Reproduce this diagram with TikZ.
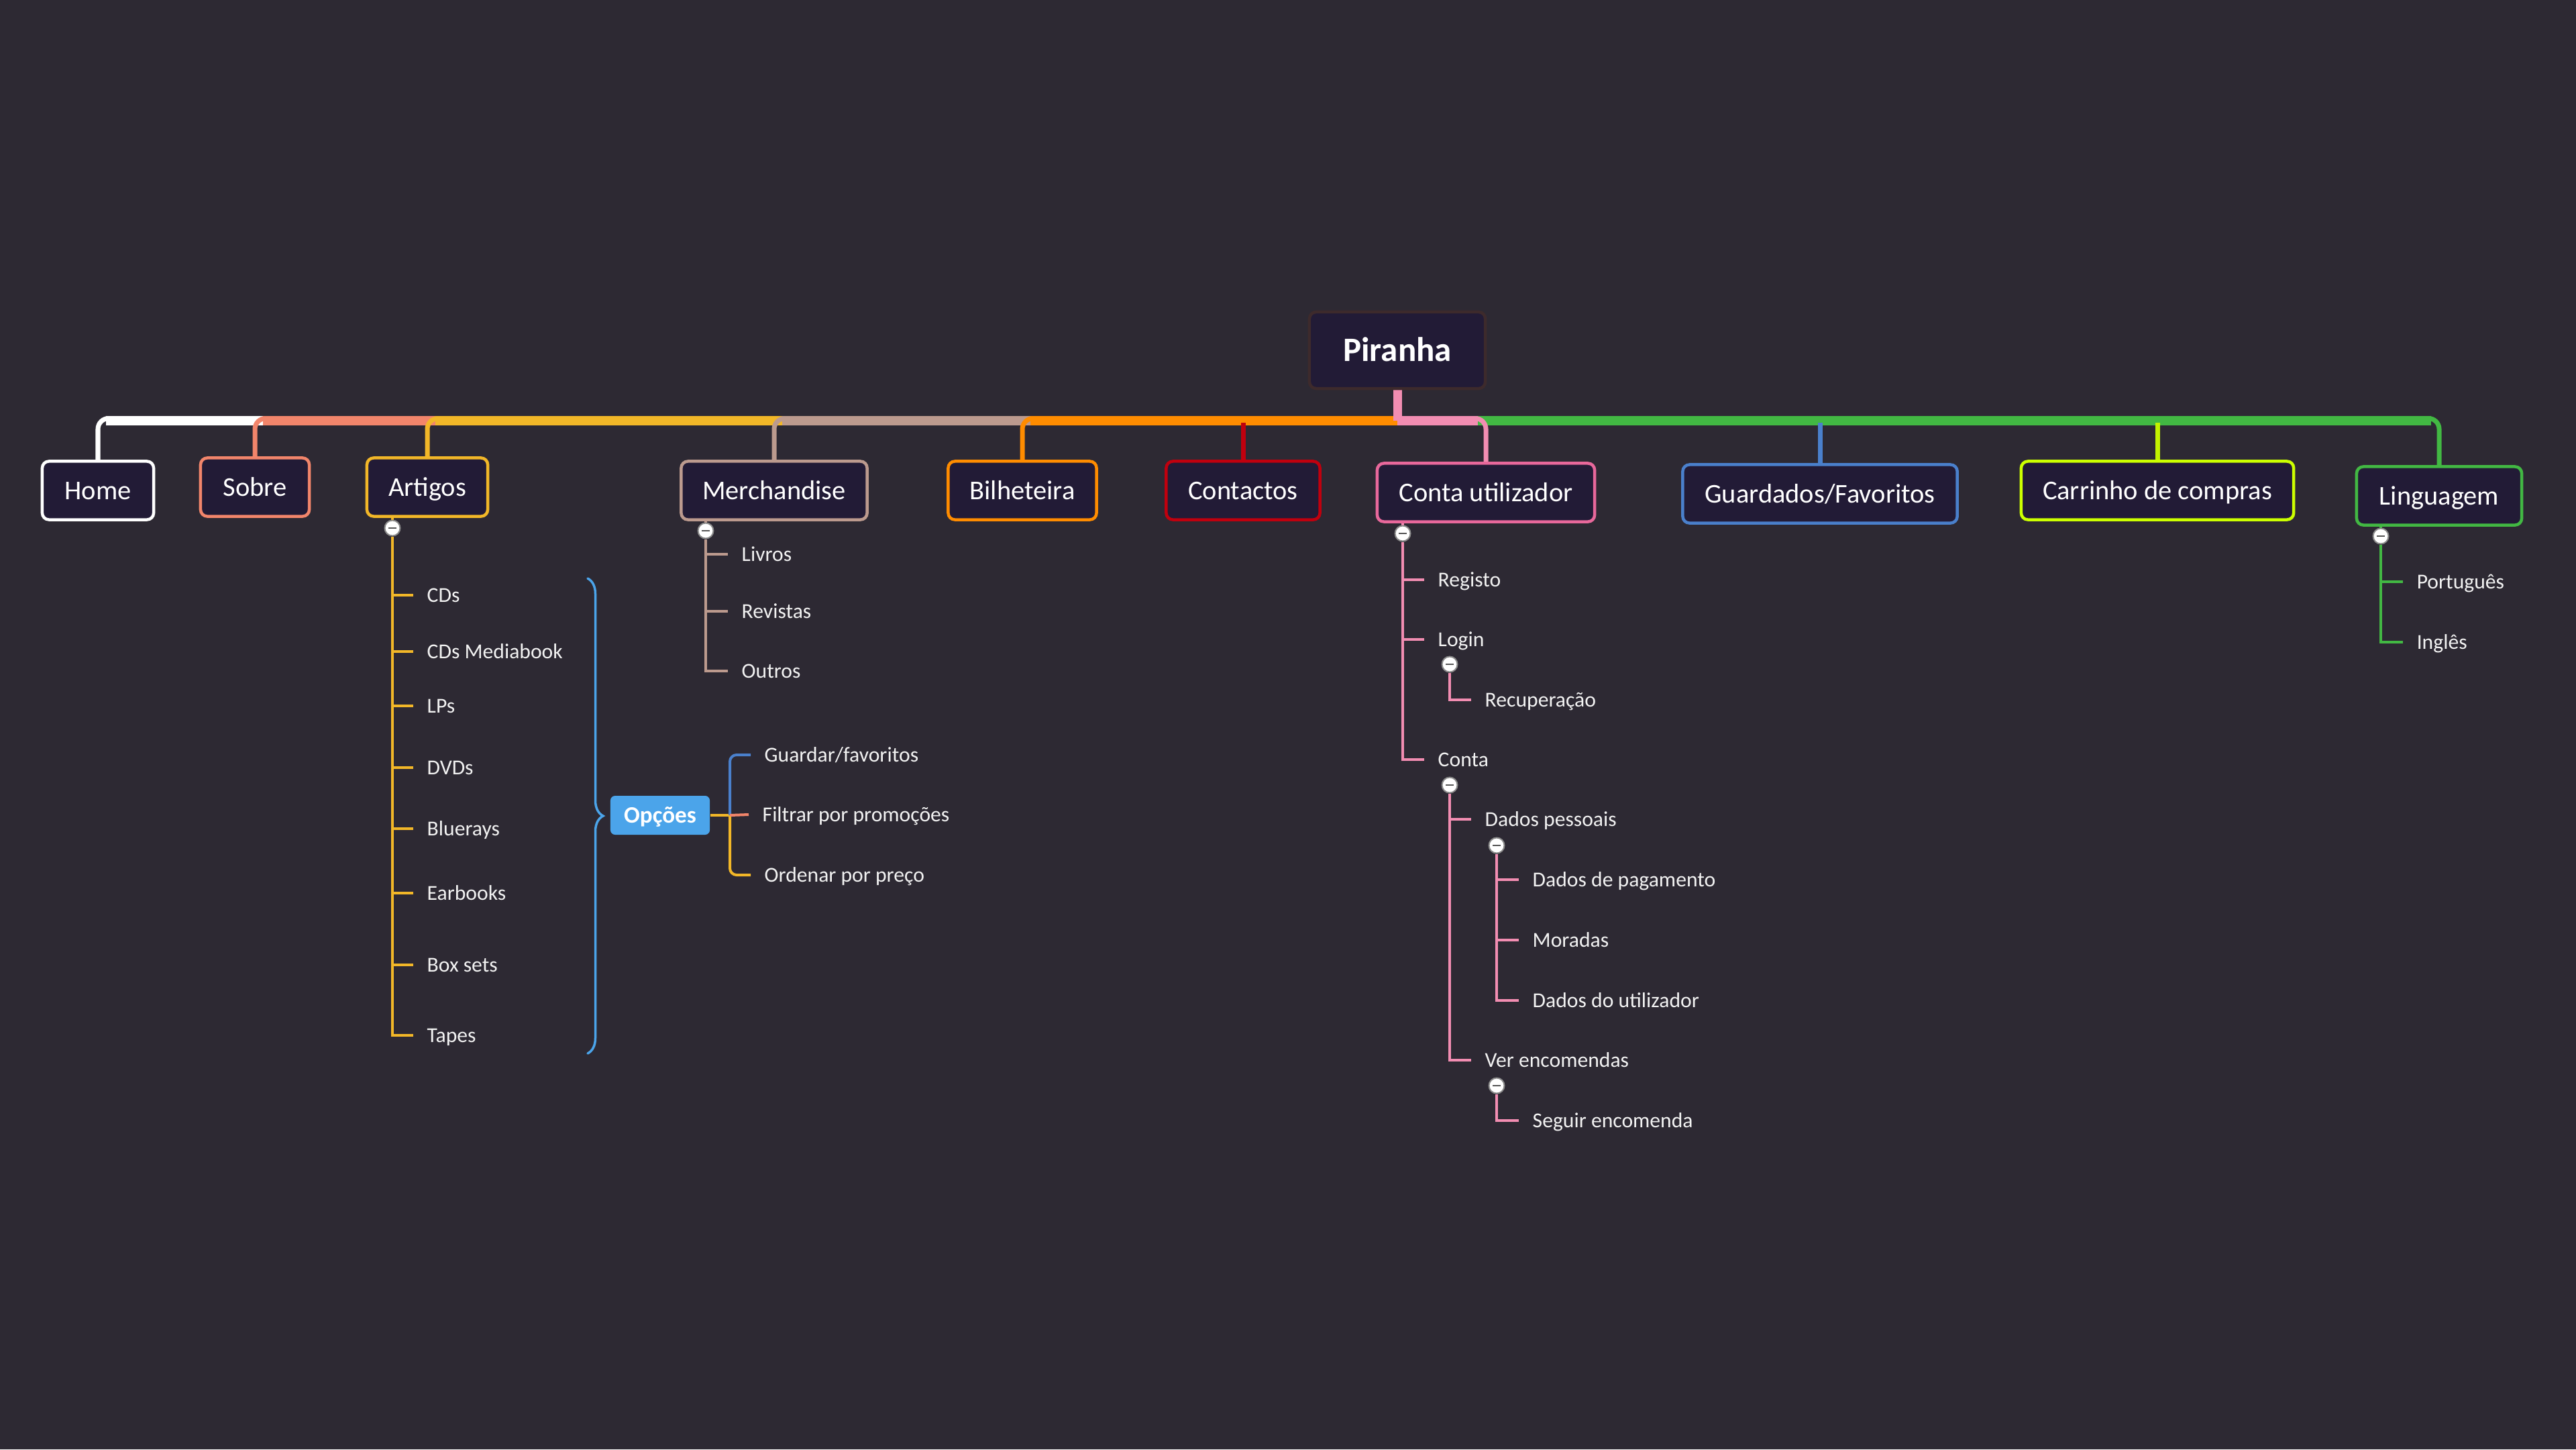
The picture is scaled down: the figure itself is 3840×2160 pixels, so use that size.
\documentclass[tikz,border=0pt]{standalone}
\usepackage{fontspec}
\setmainfont{Carlito}
\usetikzlibrary{decorations.pathreplacing,calc}
\definecolor{cBg}{HTML}{2D2933}
\definecolor{cFill}{HTML}{221B36}
\definecolor{cRootB}{HTML}{3D2A2C}
\definecolor{cHome}{HTML}{FFFFFF}
\definecolor{cSobre}{HTML}{F2856B}
\definecolor{cArt}{HTML}{F2B728}
\definecolor{cMer}{HTML}{BC9A8E}
\definecolor{cBil}{HTML}{FF8C00}
\definecolor{cCon}{HTML}{C0000E}
\definecolor{cUser}{HTML}{E8689B}
\definecolor{cPink}{HTML}{F28DB2}
\definecolor{cGuard}{HTML}{4A80CC}
\definecolor{cCarr}{HTML}{CCFF00}
\definecolor{cLing}{HTML}{42B843}
\definecolor{cOpc}{HTML}{4BA4EA}
\definecolor{cText}{HTML}{F2F2F2}
\definecolor{cCirc}{HTML}{8A8A8A}
\definecolor{cMinus}{HTML}{555555}
\pgfdeclarelayer{back}
\pgfdeclarelayer{lines}
\pgfsetlayers{back,lines,main}
\tikzset{
  mainbox/.style={draw, fill=cFill, rounded corners=0.1cm, line width=0.045cm, inner sep=0pt,
    text=white, font=\fontsize{11.5}{13}\selectfont, text height=10pt, text depth=2.6pt,
    minimum height=0.87cm},
  rootbox/.style={draw=cRootB, fill=cFill, rounded corners=0.1cm, line width=0.045cm, inner sep=0pt,
    text=white, font=\fontsize{14.5}{17}\selectfont\bfseries, text height=12.5pt, text depth=3.2pt,
    minimum width=2.62cm, minimum height=1.14cm},
  optbox/.style={fill=cOpc, rounded corners=0.07cm, inner sep=0pt, text=white,
    font=\fontsize{10}{12}\selectfont\bfseries, text height=8.8pt, text depth=2.4pt,
    minimum width=1.48cm, minimum height=0.58cm},
  lbl/.style={anchor=west, inner sep=0pt, text=cText, font=\fontsize{9}{11}\selectfont,
    text height=8pt, text depth=2.3pt},
  busline/.style={line width=0.14cm},
  drop/.style={line width=0.07cm},
  sub/.style={line width=0.04cm},
  bracestyle/.style={line width=0.035cm, cOpc, line cap=round, decorate,
    decoration={brace, amplitude=0.23cm}},
  collapse/.style={circle, fill=white, draw=cCirc, line width=0.02cm, minimum size=0.23cm,
    inner sep=0pt, path picture={\draw[line width=0.025cm, cMinus]
      ($(path picture bounding box.center)+(-6,0)$) -- ($(path picture bounding box.center)+(6,0)$);}},
}
\begin{document}
\begin{tikzpicture}[x=0.01cm, y=-0.01cm]
\begin{pgfonlayer}{back}
\fill[cBg] (0,0) rectangle (3840,2160);
\end{pgfonlayer}
\useasboundingbox (0,0) rectangle (3840,2160);

% root and main branches
\node[rootbox] (root) at (2083,522) {Piranha};
\node[mainbox, draw=cHome, minimum width=1.66cm] (home) at (146,731) {Home};
\node[mainbox, draw=cSobre, minimum width=1.62cm] (sobre) at (380,726) {Sobre};
\node[mainbox, draw=cArt, minimum width=1.80cm] (artigos) at (637,726) {Artigos};
\node[mainbox, draw=cMer, minimum width=2.77cm] (merch) at (1154,731) {Merchandise};
\node[mainbox, draw=cBil, minimum width=2.21cm] (bilh) at (1524,731) {Bilheteira};
\node[mainbox, draw=cCon, minimum width=2.29cm] (contactos) at (1853,731) {Contactos};
\node[mainbox, draw=cUser, minimum width=3.24cm] (conta) at (2215,734) {Conta utilizador};
\node[mainbox, draw=cGuard, minimum width=4.09cm] (guard) at (2713,736) {Guardados/Favoritos};
\node[mainbox, draw=cCarr, minimum width=4.06cm] (carr) at (3216,731) {Carrinho de compras};
\node[mainbox, draw=cLing, minimum width=2.46cm] (ling) at (3636,739) {Linguagem};

\coordinate (jt) at (root.south |- 0,623.5);
\coordinate (jb) at (root.south |- 0,627);

% collapse markers
\node[collapse] (artC) at (585,787) {};
\node[collapse] (merC) at (1052,791) {};
\node[collapse] (contaC) at (2091,795) {};
\node[collapse] (loginC) at (2161,990) {};
\node[collapse] (contasC) at (2161,1170) {};
\node[collapse] (dadosC) at (2231,1260) {};
\node[collapse] (verC) at (2231,1618) {};
\node[collapse] (lingC) at (3549,799) {};

% Artigos children
\node[lbl] (cds) at (636,887) {CDs};
\node[lbl] (cdsm) at (636,971) {CDs Mediabook};
\node[lbl] (lps) at (636,1052) {LPs};
\node[lbl] (dvds) at (636,1144) {DVDs};
\node[lbl] (blue) at (636,1235) {Bluerays};
\node[lbl] (earb) at (636,1331) {Earbooks};
\node[lbl] (boxs) at (636,1438) {Box sets};
\node[lbl] (tapes) at (636,1543) {Tapes};

% Merchandise children
\node[lbl] (livros) at (1105,826) {Livros};
\node[lbl] (revistas) at (1105,911) {Revistas};
\node[lbl] (outros) at (1105,1000) {Outros};

% Opcoes
\node[optbox] (opc) at (984,1215) {Opções};
\node[lbl] (guardar) at (1139,1125) {Guardar/favoritos};
\node[lbl] (filtrar) at (1136,1214) {Filtrar por promoções};
\node[lbl] (ordenar) at (1139,1304) {Ordenar por preço};

% Conta utilizador children
\node[lbl] (registo) at (2143,864) {Registo};
\node[lbl] (login) at (2143,953) {Login};
\node[lbl] (contaL) at (2143,1132) {Conta};
\node[lbl] (recup) at (2213,1043) {Recuperação};
\node[lbl] (dadosp) at (2213,1221) {Dados pessoais};
\node[lbl] (verenc) at (2213,1580) {Ver encomendas};
\node[lbl] (pag) at (2284,1311) {Dados de pagamento};
\node[lbl] (moradas) at (2284,1401) {Moradas};
\node[lbl] (utiliz) at (2284,1491) {Dados do utilizador};
\node[lbl] (seguir) at (2284,1670) {Seguir encomenda};

% Linguagem children
\node[lbl] (pt) at (3602,867) {Português};
\node[lbl] (en) at (3602,957) {Inglês};

\coordinate (bt) at (876,862);
\coordinate (bb) at (876,1570);
\coordinate (jO) at (opc.east -| 1088,0);

\begin{pgfonlayer}{lines}
% left side of bus
\draw[drop,cHome,rounded corners=0.16cm] (home.north) |- (jt);
\draw[busline,cHome] (home.north |- jb) ++(12,0) -- (jb);
\draw[drop,cSobre,rounded corners=0.16cm] (sobre.north) |- (jt);
\draw[busline,cSobre] (sobre.north |- jb) ++(12,0) -- (jb);
\draw[drop,cArt,rounded corners=0.16cm] (artigos.north) |- (jt);
\draw[busline,cArt] (artigos.north |- jb) ++(12,0) -- (jb);
\draw[drop,cMer,rounded corners=0.16cm] (merch.north) |- (jt);
\draw[busline,cMer] (merch.north |- jb) ++(12,0) -- (jb);
\draw[drop,cBil,rounded corners=0.16cm] (bilh.north) |- (jt);
\draw[busline,cBil] (bilh.north |- jb) ++(12,0) -- (jb);
\draw[drop,cCon] (contactos.north) -- (contactos.north |- 0,630);
% right side of bus
\draw[drop,cLing,rounded corners=0.16cm] (ling.north) |- (jt);
\draw[busline,cLing] (ling.north |- jb) ++(-12,0) -- (jb);
\draw[drop,cPink,rounded corners=0.16cm] (conta.north) |- (jt);
\draw[busline,cPink] (conta.north |- jb) ++(-12,0) -- (jb);
\draw[drop,cGuard] (guard.north) -- (guard.north |- 0,630);
\draw[drop,cCarr!95!black] (carr.north) -- (carr.north |- 0,630);
% root stem
\draw[line width=0.13cm,cPink] (root.south) -- (jb);

% Artigos subtree
\draw[sub,cArt] (artigos.south -| artC) -- (artC);
\draw[sub,cArt] (artC) |- ([xshift=-0.2cm]tapes.west);
\foreach \n in {cds,cdsm,lps,dvds,blue,earb,boxs}
  \draw[sub,cArt] (artC |- \n.west) -- ([xshift=-0.2cm]\n.west);
% brace and options
\draw[bracestyle] (bt) -- (bb);
\draw[sub,cArt] (opc.east) -- (jO);
\draw[sub,cGuard,rounded corners=0.1cm] (jO) |- ([xshift=-0.2cm]guardar.west);
\draw[sub,cArt,rounded corners=0.1cm] (jO) |- ([xshift=-0.2cm]ordenar.west);
\draw[sub,cSobre] (jO) -- ([xshift=-0.2cm]filtrar.west);

% Merchandise subtree
\draw[sub,cMer] (merch.south -| merC) -- (merC);
\draw[sub,cMer] (merC) |- ([xshift=-0.2cm]outros.west);
\foreach \n in {livros,revistas}
  \draw[sub,cMer] (merC |- \n.west) -- ([xshift=-0.2cm]\n.west);

% Conta utilizador subtree
\draw[sub,cPink] (conta.south -| contaC) -- (contaC);
\draw[sub,cPink] (contaC) |- ([xshift=-0.2cm]contaL.west);
\foreach \n in {registo,login}
  \draw[sub,cPink] (contaC |- \n.west) -- ([xshift=-0.2cm]\n.west);
\draw[sub,cPink] (loginC) |- ([xshift=-0.2cm]recup.west);
\draw[sub,cPink] (contasC) |- ([xshift=-0.2cm]verenc.west);
\draw[sub,cPink] (contasC |- dadosp.west) -- ([xshift=-0.2cm]dadosp.west);
\draw[sub,cPink] (dadosC) |- ([xshift=-0.2cm]utiliz.west);
\foreach \n in {pag,moradas}
  \draw[sub,cPink] (dadosC |- \n.west) -- ([xshift=-0.2cm]\n.west);
\draw[sub,cPink] (verC) |- ([xshift=-0.2cm]seguir.west);

% Linguagem subtree
\draw[sub,cLing] (ling.south -| lingC) -- (lingC);
\draw[sub,cLing] (lingC) |- ([xshift=-0.2cm]en.west);
\draw[sub,cLing] (lingC |- pt.west) -- ([xshift=-0.2cm]pt.west);
\end{pgfonlayer}
\end{tikzpicture}
\end{document}
